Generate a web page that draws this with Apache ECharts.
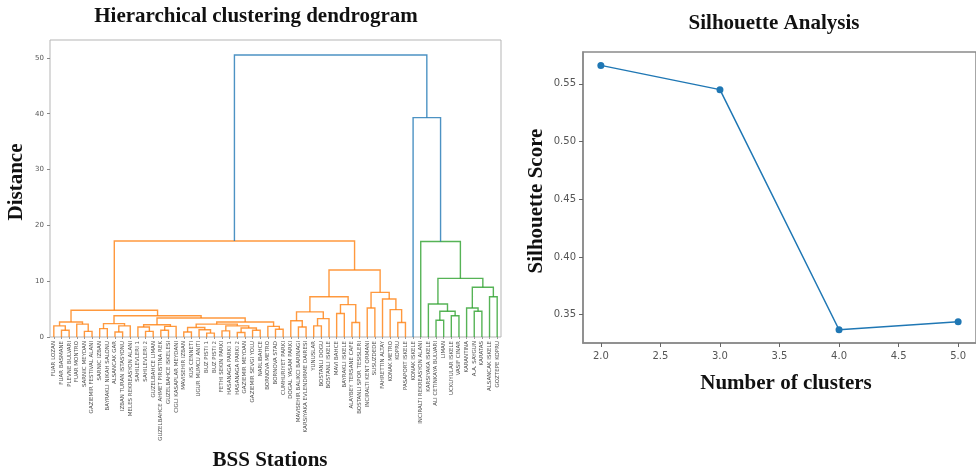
<!DOCTYPE html>
<html>
<head>
<meta charset="utf-8">
<script src="https://cdn.jsdelivr.net/npm/echarts@6/dist/echarts.min.js"></script>
<style>
  html, body { margin: 0; background: #fff; }
  #main { width: 976px; height: 472px; }
</style>
</head>
<body>
<div id="main"></div>
<script>
// leaf order of the dendrogram
const stations = [
  'FUAR LOZAN', 'FUAR BASMANE', 'PLEVNE BULVARI', 'FUAR MONTRO', 'SARNIC MEYDAN',
  'GAZIEMIR FESTIVAL ALANI', 'SARNIC IZBAN', 'BAYRAKLI NIKAH SALONU', 'ALSANCAK GAR',
  'IZBAN TURAN ISTASYONU', 'MELES REKREASYON ALANI', 'SAHILEVLERI 1', 'SAHILEVLERI 2',
  'GUZELBAHCE LIMAN', 'GUZELBAHCE AHMET PIRISTINA REK', 'GUZELBAHCE ISKELESI',
  'CIGLI KASAPLAR MEYDANI', 'MAVISEHIR IZBAN', 'KUS CENNETI', 'UGUR MUMCU ANITI',
  'BUZ PISTI 1', 'BUZ PISTI 2', 'FETHI SEKIN PARKI', 'HASANAGA PARKI 1', 'HASANAGA PARKI 2',
  'GAZIEMIR MEYDAN', 'GAZIEMIR SEVGI YOLU', 'NARLIBAHCE', 'BORNOVA METRO', 'BORNOVA STAD',
  'CUMHURIYET PARKI', 'DOGAL YASAM PARKI', 'MAVISEHIR BALIKCI BARINAGI',
  'KARSIYAKA EVLENDIRME DAIRESI', 'YUNUSLAR', 'BOSTANLI DOGU', 'BOSTANLI ISKELE',
  'MAVI BAHCE', 'BAYRAKLI ISKELE', 'ALAYBEY TERSANE CAFE', 'BOSTANLI SPOR TESISLERI',
  'INCIRALTI KENT ORMANI', 'SUSUZDEDE', 'FAHRETTIN ALTAY', 'KONAK METRO', 'KOPRU',
  'PASAPORT ISKELE', 'KONAK ISKELE', 'INCIRALTI REKREASYON ALANI', 'KARSIYAKA ISKELE',
  'ALI CETINKAYA BULVARI', 'LIMAN', 'UCKUYULAR ISKELE', 'VASIF CINAR', 'KARANTINA',
  'A.A. SAYGUN', 'KARATAS', 'ALSANCAK ISKELE', 'GOZTEPE KOPRU'
];

// merges: [height, left, right], a number is a leaf index
const clusterA = [2.7, [2.0, 0, [1.2, 1, 2]], [2.3, 3, [1.0, 4, 5]]];
const clusterB1 = [2.4, [1.5, 6, 7], [2.0, [0.9, 8, 9], 10]];
const clusterB2 = [2.2, [1.8, 11, [1.0, 12, 13]], [1.9, [1.2, 14, 15], 16]];
const clusterB3a = [2.3, [1.7, [0.9, 17, 18], [1.3, 19, [0.7, 20, 21]]],
                         [2.0, [1.1, 22, 23], [1.6, [0.8, 24, 25], [1.2, 26, 27]]]];
const clusterB3b = [1.9, 28, [1.4, 29, 30]];
const clusterC1a = [4.5, [2.9, 31, [1.8, 32, 33]], [3.3, [2.0, 34, 35], 36]];
const clusterC1b = [5.8, [4.2, 37, 38], [2.6, 39, 40]];
const clusterC2 = [8.0, [5.2, 41, 42], [6.8, 43, [4.9, 44, [2.6, 45, 46]]]];
const clusterG1 = [5.9, 49, [4.6, [3.0, 50, 51], [3.8, 52, 53]]];
const clusterG2 = [8.9, [5.2, 54, [4.6, 55, 56]], [7.2, 57, 58]];

const orangeTree = [17.2,
  [4.8, clusterA, [3.8, clusterB1, [3.4, clusterB2, [2.7, clusterB3a, clusterB3b]]]],
  [12.0, [7.2, clusterC1a, clusterC1b], clusterC2]];
const greenTree = [17.1, 48, [10.5, clusterG1, clusterG2]];
const rootTree = [50.5, orangeTree, [39.3, 47, greenTree]];

// silhouette
const clusterCounts = [2, 3, 4, 5];
const silhouetteScores = [0.566, 0.545, 0.337, 0.344];
const silXTicks = [2.0, 2.5, 3.0, 3.5, 4.0, 4.5, 5.0];
const silYTicks = [0.35, 0.40, 0.45, 0.50, 0.55];

const threshold = 35;
const palette = ['#ff7f0e', '#2ca02c'];
const aboveColor = '#1f77b4';
let nextColor = 0;
const links = [];

// scipy-like layout: leaf i sits at 10*i+5
function walk(node, color) {
  if (typeof node === 'number') return { x: node * 10 + 5, h: 0 };
  let c = color;
  if (!c && node[0] < threshold) c = palette[nextColor++];
  const l = walk(node[1], c);
  const r = walk(node[2], c);
  links.push({
    coords: [[l.x, l.h], [l.x, node[0]], [r.x, node[0]], [r.x, r.h]],
    lineStyle: { color: c || aboveColor }
  });
  return { x: (l.x + r.x) / 2, h: node[0] };
}
walk(rootTree, null);

const serif = '"Liberation Serif", "Times New Roman", serif';
const chart = echarts.init(document.getElementById('main'));

chart.setOption({
  animation: false,
  backgroundColor: '#fff',
  grid: [
    { left: 50, top: 40, width: 451, height: 297, show: true, borderColor: '#b5b5b5', borderWidth: 1 },
    { left: 583, top: 52, width: 395, height: 291, show: true, borderColor: '#8a8a8a', borderWidth: 1.5 }
  ],
  xAxis: [
    {
      type: 'category', gridIndex: 0, data: stations, boundaryGap: true,
      axisLine: { show: false },
      axisTick: { show: true, length: 2, alignWithLabel: true, interval: 0, lineStyle: { color: '#999' } },
      axisLabel: { interval: 0, rotate: 90, fontSize: 5.5, color: '#555', margin: 4, fontFamily: 'DejaVu Sans' }
    },
    { type: 'value', gridIndex: 0, min: 0, max: stations.length * 10, show: false },
    {
      type: 'value', gridIndex: 1, min: 1.85, max: 5.15,
      splitLine: { show: false },
      axisLine: { show: true, lineStyle: { color: '#8a8a8a', width: 1.5 } },
      axisTick: { show: true, length: 4, customValues: silXTicks, lineStyle: { color: '#666' } },
      axisLabel: {
        customValues: silXTicks, fontSize: 10, color: '#555', margin: 8, fontFamily: 'DejaVu Sans',
        formatter: v => v.toFixed(1)
      }
    }
  ],
  yAxis: [
    {
      type: 'value', gridIndex: 0, min: 0, max: 53.2, interval: 10,
      splitLine: { show: false },
      axisLine: { show: false },
      axisTick: { show: true, length: 3, lineStyle: { color: '#888' } },
      axisLabel: { fontSize: 7, color: '#555', margin: 6, fontFamily: 'DejaVu Sans', showMaxLabel: false }
    },
    {
      type: 'value', gridIndex: 1, min: 0.3255, max: 0.5776,
      splitLine: { show: false },
      axisLine: { show: true, lineStyle: { color: '#8a8a8a', width: 1.5 } },
      axisTick: { show: true, length: 4, customValues: silYTicks, lineStyle: { color: '#666' } },
      axisLabel: {
        customValues: silYTicks, fontSize: 10, color: '#555', margin: 7, fontFamily: 'DejaVu Sans',
        formatter: v => v.toFixed(2)
      }
    }
  ],
  series: [
    {
      type: 'lines', coordinateSystem: 'cartesian2d', xAxisIndex: 1, yAxisIndex: 0,
      polyline: true, silent: true,
      lineStyle: { width: 1.4, opacity: 0.8 },
      data: links
    },
    {
      type: 'line', xAxisIndex: 2, yAxisIndex: 1,
      data: clusterCounts.map((k, i) => [k, silhouetteScores[i]]),
      symbol: 'circle', symbolSize: 7,
      itemStyle: { color: '#1f77b4' },
      lineStyle: { color: '#1f77b4', width: 1.5 }
    }
  ],
  graphic: [
    { type: 'text', x: 256, y: 17, style: { text: 'Hierarchical clustering dendrogram', font: 'bold 21px ' + serif, fill: '#111', align: 'center', verticalAlign: 'middle' } },
    { type: 'text', x: 17, y: 182, rotation: Math.PI / 2, style: { text: 'Distance', font: 'bold 21px ' + serif, fill: '#111', align: 'center', verticalAlign: 'middle' } },
    { type: 'text', x: 270, y: 461, style: { text: 'BSS Stations', font: 'bold 21px ' + serif, fill: '#111', align: 'center', verticalAlign: 'middle' } },
    { type: 'text', x: 774, y: 24, style: { text: 'Silhouette Analysis', font: 'bold 21px ' + serif, fill: '#111', align: 'center', verticalAlign: 'middle' } },
    { type: 'text', x: 537, y: 201, rotation: Math.PI / 2, style: { text: 'Silhouette Score', font: 'bold 21px ' + serif, fill: '#111', align: 'center', verticalAlign: 'middle' } },
    { type: 'text', x: 786, y: 384, style: { text: 'Number of clusters', font: 'bold 21px ' + serif, fill: '#111', align: 'center', verticalAlign: 'middle' } }
  ]
});
</script>
</body>
</html>
